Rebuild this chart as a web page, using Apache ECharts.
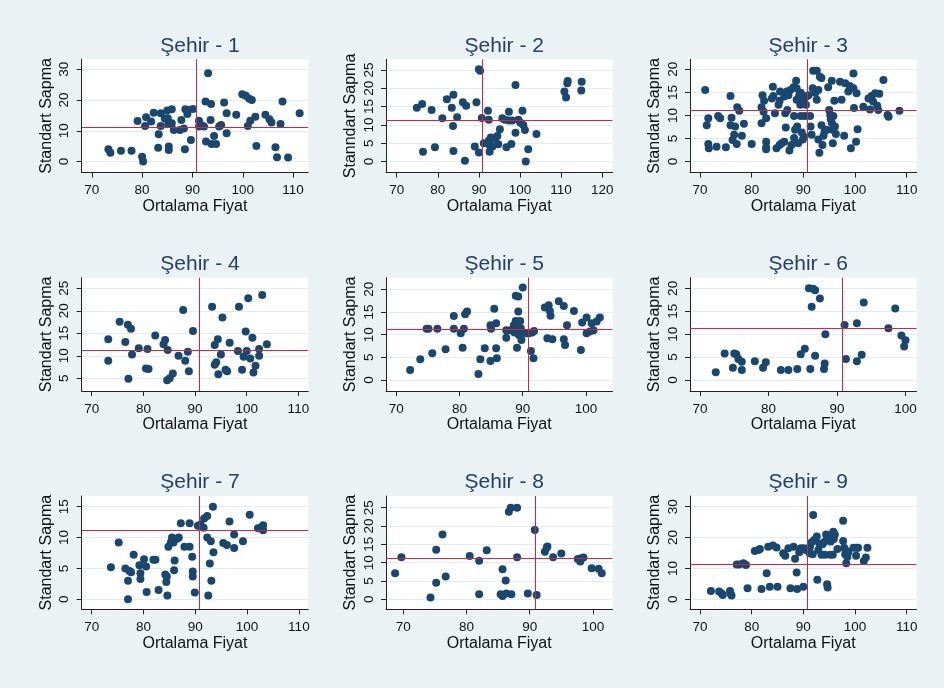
<!DOCTYPE html>
<html><head><meta charset="utf-8">
<script src="https://cdn.jsdelivr.net/npm/echarts@6/dist/echarts.min.js"></script>
<style>html,body{margin:0;padding:0;background:#eaf2f3}#c{width:944px;height:688px}</style>
</head><body><div id="c"></div>
<script>
// ---------- DATA (Ortalama Fiyat, Standart Sapma) ----------
const sehir1 = [[73.3,4.0],[73.7,2.9],[75.8,3.5],[77.9,3.5],[80.0,1.6],[80.2,0],[79.1,13.2],[80.8,14.4],[80.6,11.6],[81.8,13.0],[82.3,15.9],[83.7,11.6],[83.3,8.9],[83.2,4.5],[83.7,15.7],[84.5,14.0],[85.0,16.6],[85.1,14.1],[85.2,12.2],[85.3,4.9],[85.3,3.8],[85.9,17.0],[85.9,12.5],[86.3,10.3],[87.5,10.3],[87.8,13.5],[88.3,10.8],[88.6,17.0],[89.0,15.5],[89.1,16.8],[88.5,4.0],[89.7,7.0],[90.1,17.1],[91.3,13.3],[91.3,11.4],[91.9,11.7],[92.3,11.4],[92.6,19.5],[93.1,28.7],[92.7,6.5],[93.7,18.7],[93.6,13.5],[93.8,5.7],[94.3,8.3],[94.7,5.7],[95.3,11.4],[95.7,11.9],[96.3,19.2],[96.8,15.7],[96.8,9.2],[98.7,15.2],[99.9,21.9],[100.6,21.4],[101.3,20.4],[101.8,20.0],[101.0,11.6],[101.5,13.3],[102.5,14.6],[102.7,5.1],[104.5,15.2],[105.3,13.8],[105.7,12.7],[106.5,4.7],[106.8,1.4],[107.5,12.2],[107.9,19.5],[109.0,1.3],[111.3,15.7]];
const sehir2 = [[74.9,14.7],[76.2,15.7],[76.4,2.7],[78.5,14.1],[79.3,3.9],[81.1,11.8],[82.2,17.0],[83.4,14.7],[83.7,9.7],[83.8,18.2],[83.8,2.9],[84.7,12.1],[86.1,16.2],[86.9,15.2],[86.6,0.2],[89.0,4.1],[89.4,16.2],[90.0,2.5],[90.0,25.2],[90.3,24.8],[90.7,11.9],[91.2,5.0],[92.2,13.9],[92.4,11.4],[92.4,5.7],[92.6,4.5],[92.6,2.7],[92.9,6.6],[93.3,4.1],[93.9,6.2],[94.5,7.0],[94.7,4.7],[95.1,8.8],[95.7,11.8],[96.3,11.4],[96.7,3.9],[97.3,13.6],[97.3,11.2],[97.9,4.8],[98.1,11.2],[98.9,20.9],[98.9,7.9],[99.6,11.4],[100.1,10.6],[100.6,13.9],[100.8,10.0],[101.2,8.6],[101.4,0],[102.0,3.4],[104.0,7.5],[110.8,19.1],[111.2,17.5],[111.5,21.4],[111.6,22.0],[115.0,21.8],[114.9,19.4]];
const sehir3 = [[71.0,15.5],[71.3,7.9],[71.6,9.4],[71.6,3.8],[71.7,2.9],[73.2,3.2],[73.5,9.9],[73.9,9.4],[75.0,3.1],[75.9,14.2],[76.1,9.5],[75.9,7.9],[76.3,4.7],[76.6,5.8],[77.1,3.8],[77.2,11.8],[77.6,11.0],[76.8,7.6],[78.1,5.6],[78.5,8.2],[80.0,3.8],[81.9,11.8],[82.1,14.4],[82.3,10.8],[82.4,13.2],[81.9,8.3],[82.8,9.4],[82.8,4.3],[82.8,3.1],[82.8,2.7],[84.1,16.2],[83.9,13.7],[84.2,14.2],[84.5,10.5],[84.8,2.9],[85.5,15.2],[85.4,13.2],[85.2,12.3],[85.4,3.6],[85.8,4.0],[86.3,14.1],[86.5,10.5],[86.3,4.3],[86.6,7.4],[86.8,15.2],[86.9,11.2],[87.1,14.4],[87.3,2.4],[87.5,15.5],[87.7,3.6],[88.1,16.1],[88.2,9.9],[88.2,5.1],[88.4,6.9],[88.6,17.5],[88.7,15.9],[88.7,13.4],[88.8,7.6],[89.0,4.0],[89.2,14.4],[89.4,12.3],[89.5,14.9],[89.5,9.9],[89.7,6.3],[89.9,4.8],[90.0,14.1],[90.1,13.4],[90.1,5.4],[90.3,9.9],[90.5,12.3],[90.6,14.1],[91.0,14.4],[91.3,9.9],[91.4,7.6],[91.6,5.8],[91.8,15.9],[91.9,19.7],[92.6,19.7],[92.3,14.9],[92.6,13.4],[92.9,15.5],[92.9,4.8],[93.1,1.9],[93.2,18.4],[93.5,18.1],[93.5,7.9],[93.7,3.6],[93.9,5.6],[94.1,6.5],[94.5,6.9],[94.8,16.1],[95.0,11.2],[95.2,10.1],[95.3,9.2],[95.5,17.5],[95.5,8.4],[95.6,6.9],[95.7,4.0],[95.8,9.9],[96.0,13.2],[96.1,7.6],[96.3,6.0],[97.1,17.3],[97.4,13.4],[97.9,5.6],[98.1,17.0],[98.7,15.2],[99.0,16.4],[99.2,2.9],[99.7,19.1],[99.7,15.9],[99.8,11.6],[100.2,4.3],[100.3,14.8],[100.5,7.0],[101.6,11.9],[102.6,13.7],[102.9,11.3],[103.2,14.2],[103.5,13.0],[103.9,14.8],[104.3,12.1],[104.5,11.2],[104.7,14.7],[105.5,17.7],[106.3,10.1],[106.5,9.7],[108.6,11.0]];
const sehir4 = [[73.2,13.7],[73.2,8.9],[75.4,17.6],[76.5,13.1],[77.0,16.9],[77.1,4.9],[77.6,16.0],[77.8,10.3],[79.1,11.7],[80.8,11.5],[80.5,7.2],[81.0,7.1],[82.3,14.5],[83.9,12.6],[84.2,13.5],[84.6,4.6],[84.7,11.3],[85.1,5.0],[85.7,6.1],[86.8,10.0],[87.7,20.2],[88.1,8.9],[88.6,10.9],[88.8,6.6],[89.6,15.5],[93.3,20.9],[93.8,12.4],[93.8,8.0],[94.1,8.6],[94.4,13.7],[94.5,5.9],[95.0,10.3],[95.3,18.5],[95.9,6.9],[96.2,6.6],[96.7,12.9],[98.3,11.1],[98.5,20.9],[99.1,6.9],[99.4,9.8],[99.8,15.4],[100.0,11.1],[100.3,22.8],[100.7,9.4],[101.1,14.0],[101.3,6.3],[101.7,7.8],[102.4,11.5],[102.4,10.0],[103.0,23.5],[103.9,12.6]];
const sehir5 = [[72.2,2.2],[73.8,4.6],[74.8,11.3],[75.1,11.3],[75.7,5.9],[76.5,11.3],[77.8,6.8],[79.1,14.1],[79.1,11.3],[80.2,10.3],[80.5,7.1],[80.7,11.3],[80.9,14.5],[81.2,15.1],[83.0,1.3],[83.3,4.6],[84.0,7.0],[84.9,4.2],[84.9,12.1],[85.0,11.3],[85.5,15.7],[85.8,12.5],[85.8,7.0],[85.9,4.8],[87.4,11.0],[87.4,9.3],[88.1,11.0],[88.6,12.1],[88.7,10.5],[88.9,13.0],[88.9,18.6],[89.1,7.1],[89.3,15.1],[89.3,18.4],[89.4,9.9],[89.6,13.0],[89.7,11.4],[89.8,8.8],[90.0,20.4],[89.1,11.4],[90.5,10.3],[90.7,10.3],[91.0,10.3],[91.3,6.4],[91.5,10.5],[91.7,4.8],[91.8,10.8],[93.5,16.0],[93.9,9.2],[94.1,16.5],[94.3,15.2],[94.4,14.2],[94.7,9.0],[95.7,17.4],[96.5,16.3],[96.5,9.0],[96.7,7.7],[97.0,12.1],[98.1,15.2],[99.2,6.6],[99.4,12.7],[100.1,13.8],[100.1,10.3],[100.6,10.7],[100.9,12.5],[101.2,11.0],[101.7,12.9],[102.2,13.8]];
const sehir6 = [[72.3,1.7],[73.6,5.8],[74.8,2.7],[75.0,5.8],[75.3,5.6],[75.6,4.6],[76.1,4.0],[76.1,2.2],[78.0,4.1],[79.2,2.7],[79.6,3.9],[81.8,2.2],[82.9,2.2],[84.2,2.4],[84.7,5.6],[85.3,6.8],[85.9,20.0],[86.1,2.4],[86.3,16.0],[86.5,19.9],[86.8,19.6],[86.8,5.3],[87.5,17.8],[88.1,2.4],[88.2,3.6],[88.3,10.0],[91.1,12.0],[91.3,4.6],[92.9,4.1],[92.9,12.4],[93.6,5.5],[93.9,16.9],[97.5,11.3],[98.5,15.6],[99.4,9.7],[100.0,8.7],[99.8,7.3]];
const sehir7 = [[73.7,5.2],[75.2,9.2],[76.5,5.0],[77.0,3.0],[77.0,0],[77.3,4.6],[77.6,4.4],[78.1,7.2],[79.2,5.5],[79.4,4.2],[79.4,3.3],[80.1,6.5],[80.5,5.3],[80.6,1.2],[81.9,6.4],[82.3,6.4],[82.9,1.5],[84.2,4.0],[84.4,2.8],[84.5,3.7],[84.6,0.6],[84.8,8.5],[85.3,9.3],[85.5,10.0],[85.8,9.2],[85.9,4.7],[86.0,6.3],[86.5,9.8],[86.8,10.0],[87.2,12.3],[87.9,8.5],[88.9,8.5],[88.9,12.3],[89.4,6.9],[89.5,4.5],[89.5,3.7],[89.9,1.1],[90.5,11.9],[91.0,12.1],[91.6,11.6],[91.7,13.1],[92.3,13.5],[92.3,10.0],[92.5,0.6],[92.8,5.8],[93.0,9.4],[93.1,3.0],[93.4,15.0],[93.5,7.6],[95.4,9.1],[96.1,8.8],[96.6,12.6],[97.5,10.5],[97.5,8.3],[99.2,9.4],[100.5,13.7],[102.1,11.5],[102.6,11.6],[103.1,12.0],[103.1,11.2]];
const sehir8 = [[68.7,7.1],[69.7,11.5],[74.3,0.5],[75.2,13.5],[75.2,4.5],[76.2,17.7],[76.7,6.2],[80.5,11.8],[82.0,10.5],[82.0,1.4],[83.2,13.4],[85.4,1.4],[85.7,0.9],[85.7,8.2],[86.2,5.1],[86.3,1.6],[86.7,23.9],[87.0,25.0],[87.1,1.4],[88.0,25.0],[88.0,11.5],[89.7,1.6],[90.8,18.9],[91.1,1.2],[92.4,13.0],[92.7,14.1],[92.8,14.4],[93.7,11.5],[95.0,12.5],[97.6,11.0],[98.0,10.3],[98.1,11.2],[98.5,11.4],[99.8,8.5],[100.9,8.3],[101.4,7.1]];
const sehir9 = [[72.1,2.7],[73.7,2.5],[74.2,1.9],[74.4,1.4],[75.8,2.7],[75.9,1.9],[76.1,1.2],[77.1,11.3],[77.6,11.3],[78.4,11.7],[78.9,11.1],[79.2,3.6],[80.6,15.6],[81.3,16.0],[81.6,16.3],[81.9,3.3],[82.9,8.4],[83.2,17.0],[83.5,4.1],[84.1,17.4],[84.8,16.8],[85.0,4.1],[86.1,14.9],[86.5,14.1],[87.1,16.5],[87.5,3.6],[88.1,17.0],[88.4,13.1],[88.7,8.7],[88.8,3.3],[89.2,15.2],[89.5,16.5],[90.0,4.1],[90.1,16.5],[90.5,16.0],[91.2,14.9],[91.3,17.0],[91.6,18.5],[91.8,14.6],[91.9,27.3],[92.1,19.2],[92.6,20.3],[92.7,6.3],[92.9,16.0],[93.1,18.0],[93.5,14.4],[93.7,17.8],[94.0,18.5],[94.2,14.4],[94.4,21.0],[94.5,19.2],[94.6,4.9],[94.7,3.8],[94.8,20.7],[95.2,14.4],[95.3,18.7],[95.5,20.3],[95.7,14.4],[95.8,21.9],[95.9,19.5],[96.1,21.0],[96.6,16.3],[97.7,25.4],[97.7,18.9],[97.9,16.7],[98.1,14.6],[98.3,11.7],[98.4,15.6],[98.5,13.8],[98.7,15.2],[99.7,16.7],[100.3,16.7],[100.2,14.1],[100.6,16.7],[101.7,12.4],[102.1,13.5],[102.4,16.7]];

const titles = ['Şehir - 1','Şehir - 2','Şehir - 3','Şehir - 4','Şehir - 5','Şehir - 6','Şehir - 7','Şehir - 8','Şehir - 9'];
const yNames = ['Standart Sapma','Stanndart Sapma','Standart Sapma','Standart Sapma','Standart Sapma','Standart Sapma','Standart Sapma','Standart Sapma','Standart Sapma'];
const xName = 'Ortalama Fiyat';

// tick labels
const xTicks110 = [70,80,90,100,110];
const xTicks120 = [70,80,90,100,110,120];
const xTicks100 = [70,80,90,100];
const yTicks30 = [0,10,20,30];
const yTicks25 = [0,5,10,15,20,25];
const yTicks20 = [0,5,10,15,20];
const yTicks5to25 = [5,10,15,20,25];
const yTicks15 = [0,5,10,15];

// reference lines
const REF_X = 90.8;
const REF_Y = 11.2;

// ---------- LAYOUT ----------
const FONT = '"Liberation Sans", Arial, Helvetica, sans-serif';
const colLeft = [81.7, 386, 690];
const rowTop = [59.3, 277.7, 496];
const PW = 226.5, PH = 113.3;

const panels = [
  {data: sehir1, xt: xTicks110, yt: yTicks30,   xr: [68.0, 113.0],  yr: [-3.57, 33.25]},
  {data: sehir2, xt: xTicks120, yt: yTicks25,   xr: [67.4, 122.5],  yr: [-3.0, 27.9]},
  {data: sehir3, xt: xTicks110, yt: yTicks20,   xr: [68.06, 111.9], yr: [-2.38, 22.17]},
  {data: sehir4, xt: xTicks110, yt: yTicks5to25,xr: [68.06, 111.9], yr: [2.19, 27.37]},
  {data: sehir5, xt: xTicks100, yt: yTicks20,   xr: [68.38, 104.2], yr: [-2.43, 22.57]},
  {data: sehir6, xt: xTicks100, yt: yTicks20,   xr: [68.54, 101.6], yr: [-2.4, 22.33]},
  {data: sehir7, xt: xTicks110, yt: yTicks15,   xr: [68.06, 111.8], yr: [-1.62, 16.73]},
  {data: sehir8, xt: xTicks100, yt: yTicks25,   xr: [67.26, 103.1], yr: [-2.73, 28.18]},
  {data: sehir9, xt: xTicks110, yt: yTicks30,   xr: [68.06, 111.9], yr: [-3.24, 33.45]}
];

const grid = [], xAxis = [], yAxis = [], series = [], title = [];
const AXC = '#222';
panels.forEach((p, i) => {
  const left = colLeft[i % 3], top = rowTop[Math.floor(i / 3)];
  grid.push({left, top, width: PW, height: PH, show: true, backgroundColor: '#ffffff', borderWidth: 0});
  title.push({text: titles[i], left: left + PW / 2, top: top - 29, textAlign: 'center',
    textStyle: {fontSize: 21, fontWeight: 'normal', color: '#23406f', fontFamily: FONT}});
  xAxis.push({type: 'value', gridIndex: i, min: p.xr[0], max: p.xr[1],
    name: xName, nameLocation: 'middle', nameGap: 24,
    nameTextStyle: {fontSize: 16, color: '#111', fontFamily: FONT},
    axisLine: {show: true, onZero: false, lineStyle: {color: AXC, width: 1}},
    axisTick: {show: true, customValues: p.xt, length: 5, lineStyle: {color: AXC, width: 1}},
    axisLabel: {customValues: p.xt, margin: 11, fontSize: 13.5, color: '#111', fontFamily: FONT},
    splitLine: {show: false}});
  yAxis.push({type: 'value', gridIndex: i, min: p.yr[0], max: p.yr[1],
    name: yNames[i], nameLocation: 'middle', nameGap: 27, nameRotate: 90,
    nameTextStyle: {fontSize: 16, color: '#111', fontFamily: FONT},
    axisLine: {show: true, onZero: false, lineStyle: {color: AXC, width: 1}},
    axisTick: {show: true, customValues: p.yt, length: 5, lineStyle: {color: AXC, width: 1}},
    axisLabel: {customValues: p.yt, rotate: 90, margin: 10, fontSize: 13.5, color: '#111', fontFamily: FONT},
    splitLine: {show: true, lineStyle: {color: '#e3ecef', width: 1}}});
  series.push({type: 'scatter', xAxisIndex: i, yAxisIndex: i, data: [], silent: true, z: 1,
    markLine: {silent: true, symbol: 'none', animation: false, label: {show: false},
      lineStyle: {color: '#d9223e', width: 1, type: 'solid'},
      data: [{xAxis: REF_X}, {yAxis: REF_Y}]}});
  series.push({type: 'scatter', xAxisIndex: i, yAxisIndex: i, data: p.data, symbolSize: 8, z: 3,
    itemStyle: {color: '#1a476f', opacity: 1}});
});

const chart = echarts.init(document.getElementById('c'), null, {renderer: 'canvas'});
chart.setOption({backgroundColor: '#eaf2f3', animation: false, title, grid, xAxis, yAxis, series});
</script></body></html>
